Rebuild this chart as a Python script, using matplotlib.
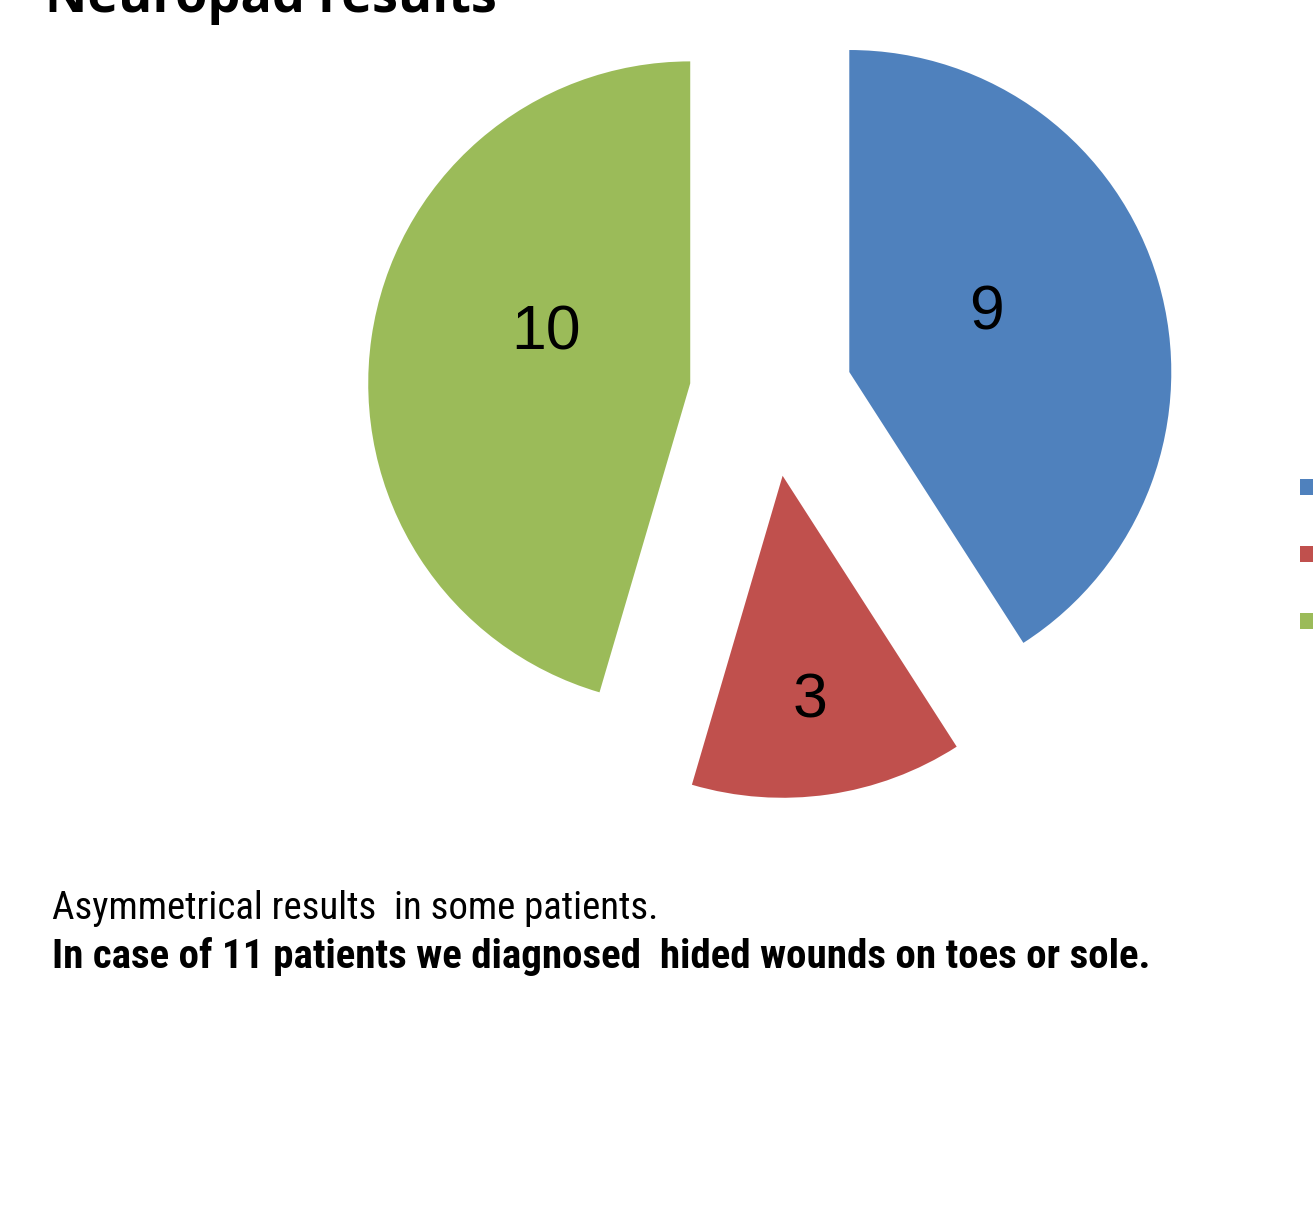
import numpy as np
import matplotlib.pyplot as plt

# slice data (clockwise from 12 o'clock)
categories = ["Pathological", "Asymmetrical", "Normal"]
values = [9, 3, 10]
colors = ["#4F81BD", "#C0504D", "#9BBB59"]

# label placement relative to each wedge tip: fraction of radius, angle offset (deg)
label_r = [0.47, 0.69, 0.48]
label_off = [8.5, -1.2, -12.8]

title = "Neuropad results"
note1 = "Asymmetrical results  in some patients."
note2 = "In case of 11 patients we diagnosed  hided wounds on toes or sole."

W, H = 1313, 1222
fig = plt.figure(figsize=(W / 100, H / 100), dpi=100)
ax = fig.add_axes([0, 0, 1, 1])

R = 322
gap = 81.6  # explode distance, same units as radius
wedges, _ = ax.pie(values, colors=colors, startangle=90, counterclock=False,
                   radius=R, center=(771, H - 395), explode=[gap] * 3,
                   frame=True)
ax.set_xlim(0, W)
ax.set_ylim(0, H)
ax.set_aspect("equal")
ax.axis("off")

for w, v, fr, off in zip(wedges, values, label_r, label_off):
    mid = np.deg2rad((w.theta1 + w.theta2) / 2 + off)
    cx, cy = w.center
    ax.text(cx + fr * R * np.cos(mid), cy + fr * R * np.sin(mid) - 5, str(v),
            ha="center", va="center", fontsize=45, family="Liberation Sans")

fig.legend(wedges, categories, loc="center left",
           bbox_to_anchor=(1300 / W, 1 - 556 / H), borderaxespad=0,
           borderpad=0, frameon=False, fontsize=20, labelspacing=1.4,
           handlelength=0.5, handleheight=0.5, handletextpad=0.5)

narrow = ["Liberation Sans Narrow", "Roboto Condensed", "Open Sans Condensed",
          "DejaVu Sans"]
fig.text(45 / W, 1 - 12 / H, title, fontsize=37.5, fontweight="bold",
         va="baseline", family="Open Sans")
fig.text(52 / W, 1 - 919 / H, note1, fontsize=28, va="baseline",
         family=narrow, fontstretch="condensed")
fig.text(52 / W, 1 - 968 / H, note2, fontsize=29.5, va="baseline",
         fontweight="bold", family=narrow, fontstretch="condensed")

fig.savefig("out.png", dpi=100, facecolor="white")
